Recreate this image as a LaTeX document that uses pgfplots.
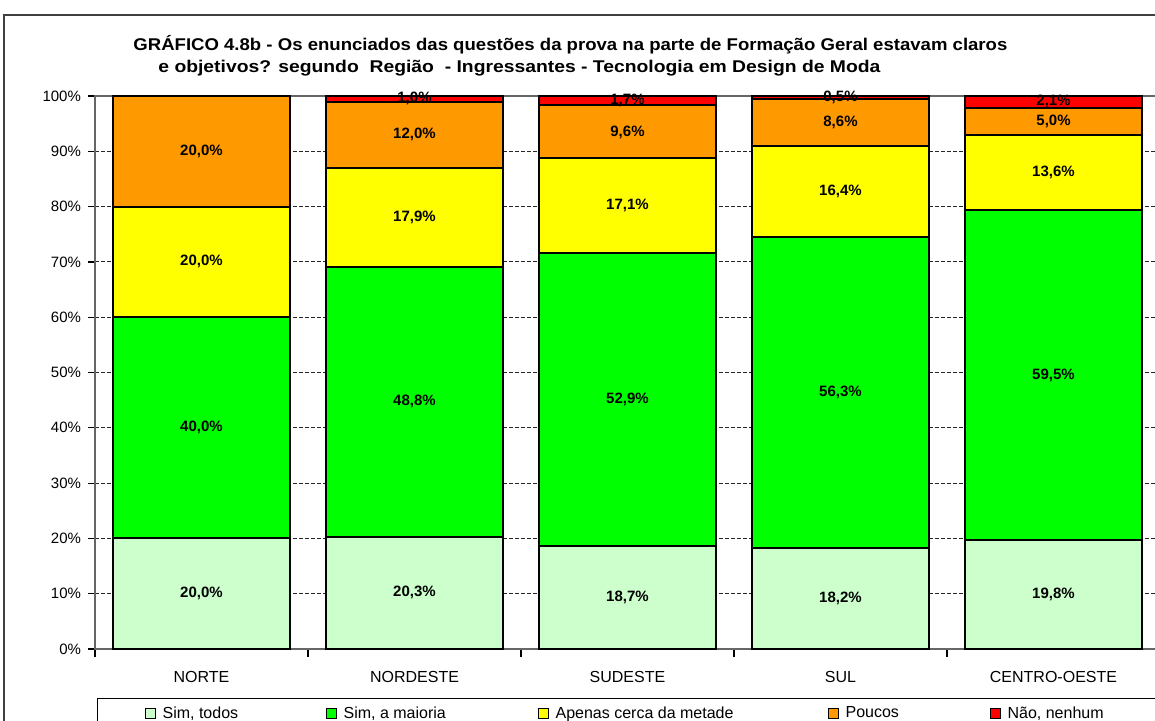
\documentclass[border=0pt]{standalone}
\usepackage{pgfplots}
\pgfplotsset{compat=1.18}
\usepackage{pgfplotstable}
\usepackage{graphicx}
\usepackage{fontspec}
\setmainfont{Liberation Sans}
\definecolor{c1}{HTML}{CCFFCC}
\definecolor{c2}{HTML}{00FF00}
\definecolor{c3}{HTML}{FFFF00}
\definecolor{c4}{HTML}{FF9900}
\definecolor{c5}{HTML}{FF0000}
\pgfkeys{/pgf/number format/assume math mode=true}
\pgfplotstableread{
x a b c d e
0 20.0 40.0 20.0 20.0 0.0
1 20.3 48.8 17.9 12.0 1.0
2 18.7 52.9 17.1 9.6 1.7
3 18.2 56.3 16.4 8.6 0.5
4 19.8 59.5 13.6 5.0 2.1
}\data
\pgfplotsset{
  seglabel/.style={
    point meta=explicit,
    nodes near coords={\pgfmathfloatifflags{\pgfplotspointmeta}{0}{}{\pgfmathprintnumber[fixed,fixed zerofill,precision=1,use comma]{\pgfplotspointmeta}\%}},
    every node near coord/.append style={anchor=center, font=\fontsize{7.5}{9}\selectfont\bfseries, text=black},
  }
}
\begin{document}
\begin{tikzpicture}[x=1pt,y=1pt]
\clip (0,0) rectangle (577.5,360);
\useasboundingbox (0,0) rectangle (577.5,360);
\draw[line width=0.8pt, black!75] (2,-5) -- (2,352.5) -- (590,352.5);
\node[anchor=west, inner sep=0pt, font=\fontsize{8.5}{10}\selectfont\bfseries] at (66.5,337.5) {\resizebox{437pt}{\height}{GRÁFICO 4.8b - Os enunciados das questões da prova na parte de Formação Geral estavam claros}};
\node[anchor=west, inner sep=0pt, font=\fontsize{8.5}{10}\selectfont\bfseries] at (79,326) {\resizebox{361pt}{\height}{e objetivos? segundo\ \ Região\ \ - Ingressantes - Tecnologia em Design de Moda}};
\begin{axis}[
  at={(47.5pt,35.5pt)}, anchor=south west,
  scale only axis, width=532.5pt, height=276.5pt,
  ybar stacked, bar width=88.5pt,
  xmin=-0.5, xmax=4.5, ymin=0, ymax=100,
  xtick={0,...,4}, xticklabels={NORTE,NORDESTE,SUDESTE,SUL,CENTRO-OESTE},
  minor xtick={-0.5,0.5,...,4.5},
  ytick={0,10,...,100},
  yticklabel={\pgfmathprintnumber{\tick}\%},
  tick pos=left, tick align=outside,
  major tick length=3.5pt, minor tick length=4pt,
  major x tick style={draw=none},
  minor x tick style={black, line width=0.6pt},
  ytick style={black, line width=0.6pt},
  ymajorgrids,
  major grid style={black!85, line width=0.5pt, dash pattern=on 2pt off 1pt},
  axis line style={black!60, line width=0.8pt},
  xticklabel style={font=\fontsize{8}{9.6}\selectfont, yshift=-4pt},
  yticklabel style={font=\fontsize{7.5}{9}\selectfont},
  clip=false,
  legend columns=5,
  legend image code/.code={\draw[#1, draw=black, line width=0.5pt] (0pt,-2.5pt) rectangle (5pt,2.5pt);},
  legend style={at={(0,0)}, anchor=north west, xshift=1pt, yshift=-24.5pt, draw=black, line width=0.6pt, inner xsep=23.5pt, inner ysep=2pt, font=\fontsize{8}{9.6}\selectfont, /tikz/every even column/.append style={column sep=0pt}, /tikz/every odd column/.append style={column sep=1.5pt}},
]
\addplot[fill=c1, draw=black, line width=1pt, seglabel=a] table[x=x,y=a,meta=a]{\data};
\addlegendentry{\makebox[79.5pt][l]{Sim, todos}}
\addplot[fill=c2, draw=black, line width=1pt, seglabel=b] table[x=x,y=b,meta=b]{\data};
\addlegendentry{\makebox[95pt][l]{Sim, a maioria}}
\addplot[fill=c3, draw=black, line width=1pt, seglabel=c] table[x=x,y=c,meta=c]{\data};
\addlegendentry{\makebox[134pt][l]{Apenas cerca da metade}}
\addplot[fill=c4, draw=black, line width=1pt, seglabel=d] table[x=x,y=d,meta=d]{\data};
\addlegendentry{\makebox[70pt][l]{Poucos}}
\addplot[fill=c5, draw=black, line width=1pt, seglabel=e] table[x=x,y=e,meta=e]{\data};
\addlegendentry{\makebox[64pt][l]{Não, nenhum}}
\end{axis}
\end{tikzpicture}
\end{document}
